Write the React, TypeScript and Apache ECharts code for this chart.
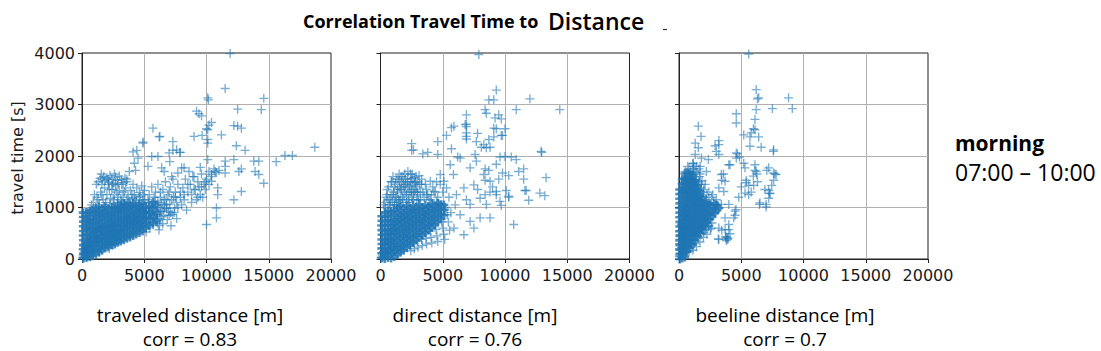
import React, { useEffect, useRef } from "react";
import * as echarts from "echarts";

// ---------- data ----------
const xTitles = ["traveled distance [m]", "direct distance [m]", "beeline distance [m]"];
const corrValues = ["0.83", "0.76", "0.7"];
const chartTitle = "Correlation Travel Time to";
const chartTitleBig = "Distance";
const periodName = "morning";
const periodTime = "07:00 – 10:00";
const yTitle = "travel time [s]";

// [distance m, travel time s]
const traveledPts: number[][] = [
  [60,20],[120,95],[175,40],[205,150],[255,75],[300,215],[345,120],[385,30],[420,265],[455,170],[495,85],[525,330],[575,235],[625,120],[650,395],[700,290],[725,60],[775,185],[805,455],[850,350],[880,105],[925,245],[955,520],[1000,415],[1025,150],[1080,305],[1115,585],[1150,465],[1200,205],[1245,355],[1285,640],[1320,515],[1365,135],[1400,265],[1430,400],[1470,690],[1520,560],[1555,195],[1600,315],[1630,455],[1680,735],[1720,600],[1765,235],[1800,365],[1840,500],[1885,770],[1920,645],[1965,275],[2005,415],[2050,545],[2100,805],[2140,680],[2185,205],[2225,305],[2260,450],[2305,595],[2350,835],[2400,720],[2445,265],[2485,355],[2520,505],[2565,640],[2605,865],[2650,760],[2700,305],[2745,405],[2790,555],[2835,685],[2880,895],[2925,790],[2965,345],[3005,455],[3050,605],[3095,725],[3140,925],[3190,825],[3245,385],[3285,505],[3330,645],[3375,765],[3420,955],[3470,855],[3520,425],[3565,545],[3610,685],[3660,805],[3705,985],[3750,885],[3800,465],[3850,585],[3900,725],[3950,845],[4005,1005],[4050,915],[4100,505],[4155,625],[4200,765],[4250,875],[4300,1035],[4350,945],[4405,545],[4450,665],[4500,795],[4555,905],[4600,1055],[4650,965],[4705,585],[4750,705],[4800,825],[4855,935],[4900,1085],[4950,645],[5005,765],[5050,885],[5100,995],[5150,525],[5205,705],[5260,825],[5320,945],[5380,1105],[5450,605],[5505,765],[5560,885],[5620,1005],[5700,665],[5760,805],[5825,945],[5885,1125],[5950,725],[6020,865],[6100,1005],[6180,565],[6250,785],[6320,925],[6400,1085],[6480,685],[6565,845],[6650,985],[6750,1155],[6850,765],[6950,925],[7050,1065],[7150,645],[7250,865],[7350,1205],[7450,985],[7600,785],
  [90,60],[230,110],[320,170],[440,220],[560,170],[680,360],[740,250],[860,420],[960,330],[1060,520],[1130,240],[1220,430],[1300,580],[1380,350],[1480,470],[1570,620],[1650,390],[1740,530],[1860,640],[1940,340],[2020,480],[2160,600],[2280,380],[2360,700],[2460,560],[2600,450],[2680,640],[2820,480],[2900,740],[3060,530],[3160,680],[3300,560],[3440,720],[3540,610],[3680,740],[3780,640],[3920,800],[4060,700],[4220,680],[4300,830],[4460,750],[4580,620],[4720,880],[4820,700],[4980,920],[5120,800],[5300,650],[5420,920],[5600,780],[5760,1000],[5900,860],[6060,700],[6200,930],[6400,820],[6600,1050],[6800,980],
  [150,250],[350,330],[460,470],[610,540],[760,600],[880,700],[1040,770],[1190,840],[1330,900],[1510,860],[1660,940],[1790,1010],[1950,880],[2080,990],[2230,1060],[2390,1010],[2570,1080],[2720,970],[2860,1100],[3020,1010],[3180,1120],[3390,1070],[3580,1150],[3820,1090],[4080,1180],[4380,1130],[4690,1220],[5050,1150],
  [300,600],[500,780],[650,950],[760,1050],[420,900],[900,1100],[1000,900],[1110,1000],[600,700],
  [1200,1200],[1400,1050],[1500,1300],[1700,1150],[1800,1380],[2000,1250],[2100,1450],[2300,1180],[2400,1350],[2600,1250],[2700,1420],[2900,1200],[3000,1330],[3200,1450],[3300,1250],[3500,1380],[3700,1200],[3900,1330],[4100,1450],[4200,1250],[4400,1380],[4600,1290],[4800,1420],[5000,1330],
  [1000,1250],[1300,1150],[1600,1250],[1900,1100],[2200,1350],[2500,1150],[2800,1300],[3100,1150],[3400,1300],[3700,1100],[4000,1250],[4300,1150],[4600,1200],[4900,1250],[2100,1550],[2900,1450],[3600,1550],[1150,1450],[1650,1550],[2450,1450],
  [1300,1500],[1450,1570],[1600,1450],[1750,1600],[1850,1520],[2000,1580],[2150,1490],[2250,1620],[2400,1550],[2550,1470],[2700,1590],[2850,1530],[3000,1610],[3150,1540],[3300,1480],[3450,1570],[1550,1650],[2600,1650],[3600,1500],
  [4100,2080],[4200,1860],[4500,1960],[4900,2250],[5700,2540],[6200,2370],[6100,1990],[6400,1770],[7200,1600],[7300,2280],[7600,2120],[7700,1670],[8200,1770],[7900,2070],[7050,1890],[5600,1990],[4400,2110],[4300,1720],[5300,1800],[3800,1700],[6600,1700],[7000,2060],
  [5400,1250],[5600,1400],[5900,1300],[6100,1450],[6300,1200],[6500,1350],[6700,1500],[6900,1250],[7100,1400],[7300,1550],[7500,1300],[7700,1450],[7900,1200],[8100,1380],[8300,1550],[8500,1300],[8700,1450],[8900,1600],[9100,1350],[9300,1500],[9500,1250],[9600,1650],[9800,1450],[10000,1550],[10200,1700],[10400,1600],[10600,1750],[10800,1680],[11000,1720],[8000,1050],[8400,950],[8800,1100],[9200,1150],[9700,1200],[7600,1100],[7000,850],[7400,900],[8200,1250],[9400,1400],[9900,1350],
  [5300,1150],[5600,1050],[5800,1200],[6100,1100],[6300,1300],[6600,1150],[6800,1050],[7000,1300],[7200,1150],[7500,1200],[7700,1000],[7900,1300],[8200,1150],[8500,1450],[8800,1250],[9000,1350],[9300,1200],[9600,1400],[9900,1500],[10200,1450],[6500,950],[7100,900],[5800,800],[6200,650],
  [11900,3990],[11500,3310],[10100,3130],[10150,3090],[14600,3120],[12500,2910],[14400,2900],[9200,2870],[9400,2820],[9600,2780],[10400,2650],[10200,2600],[12200,2590],[12500,2580],[12800,2540],[10000,2530],[10100,2510],[11200,2410],[6250,2380],[9000,2380],[9650,2400],[10100,2320],[10100,2250],[12400,2200],[13100,2110],[18700,2170],[16300,2010],[16900,2010],[15600,1890],[13800,1900],[14200,1900],[10100,1930],[11500,1900],[11500,1800],[12200,1930],[11500,1670],[10700,1700],[10400,1640],[12600,1700],[12800,1750],[13900,1700],[14200,1640],[14600,1470],[12800,1310],[12200,1150],[10800,990],[10900,1380],[10900,1250],[10400,1510],[10800,800],[10000,670],[4900,2270],[7300,2110],[7850,2070],[8000,1770],[9500,1780],[9000,1600],[8600,1700]
];

// solid core of the traveled-distance cloud
const traveledDense: number[][] = [
  [110,15],[130,105],[100,190],[125,275],[115,365],[100,455],[120,545],[105,635],[125,725],[110,815],[100,900],
  [360,35],[385,120],[350,215],[375,300],[360,385],[390,470],[370,560],[355,650],[380,740],[365,830],[350,905],
  [610,45],[630,135],[600,225],[625,305],[615,395],[640,490],[605,575],[620,665],[600,755],[630,840],[615,920],
  [860,65],[880,150],[855,245],[875,330],[865,425],[890,505],[850,600],[870,685],[865,770],[880,860],[855,950],
  [1110,90],[1130,185],[1105,270],[1125,365],[1115,450],[1140,545],[1100,630],[1120,720],[1135,805],[1120,895],[1105,985],
  [1360,135],[1380,220],[1355,315],[1375,400],[1365,490],[1390,585],[1350,670],[1370,760],[1385,845],[1370,935],[1355,1010],
  [1610,170],[1630,265],[1605,350],[1625,440],[1615,535],[1640,620],[1600,710],[1620,805],[1635,890],[1625,975],
  [1860,215],[1880,300],[1855,395],[1875,480],[1865,570],[1890,665],[1850,750],[1870,840],[1885,930],[1870,1015],
  [2110,240],[2130,335],[2105,420],[2125,515],[2115,600],[2140,690],[2100,785],[2120,870],[2135,960],
  [2360,275],[2380,360],[2355,455],[2375,540],[2365,635],[2390,720],[2350,810],[2370,905],[2385,985],
  [2610,290],[2630,385],[2605,470],[2625,565],[2615,650],[2640,745],[2600,830],[2620,920],[2635,1005],
  [2860,325],[2880,410],[2855,505],[2875,590],[2865,685],[2890,770],[2850,865],[2870,950],[2885,1030],
  [3110,350],[3130,445],[3105,530],[3125,625],[3115,710],[3140,805],[3100,890],[3120,985],[3135,1050],
  [3360,375],[3380,460],[3355,555],[3375,640],[3365,735],[3390,820],[3350,915],[3370,1000],[3385,1070],
  [3610,405],[3630,490],[3605,585],[3625,670],[3615,765],[3640,850],[3600,945],[3620,1030],
  [3860,425],[3880,515],[3855,600],[3875,695],[3865,780],[3890,875],[3850,960],[3870,1050],
  [4110,455],[4130,540],[4105,635],[4125,720],[4115,815],[4140,900],[4100,995],[4120,1080],
  [4360,485],[4380,570],[4355,665],[4375,750],[4365,845],[4390,930],[4350,1020],
  [4610,515],[4630,600],[4605,695],[4625,780],[4615,875],[4640,960],[4600,1050],
  [4860,545],[4880,630],[4855,725],[4875,810],[4865,905],[4890,990],[4850,1080],
  [5120,600],[5140,705],[5110,800],[5130,905],[5115,1000],
  [5400,655],[5420,785],[5390,900],[5410,1025],
  [5700,705],[5720,850],[5690,985],[5710,1100],
  [6000,755],[6020,905],[5990,1050]
];

const directPts: number[][] = [
  [50,30],[100,120],[150,60],[180,220],[230,140],[260,40],[300,300],[330,190],[370,90],[400,380],[440,260],[480,150],[510,450],[550,340],[590,220],[620,60],[650,520],[690,410],[730,290],[770,170],[800,590],[840,480],[880,360],[920,240],[950,100],[990,660],[1030,540],[1070,420],[1110,300],[1150,180],[1190,720],[1230,610],[1270,490],[1310,370],[1350,250],[1390,120],[1430,780],[1470,660],[1510,540],[1550,420],[1590,300],[1630,180],[1680,830],[1720,710],[1760,590],[1800,470],[1840,350],[1880,220],[1930,870],[1970,750],[2010,630],[2050,510],[2090,390],[2130,260],[2180,900],[2220,780],[2260,660],[2300,540],[2340,420],[2380,290],[2430,160],[2470,920],[2510,800],[2550,680],[2590,560],[2630,440],[2670,320],[2720,200],[2760,950],[2800,830],[2840,710],[2880,590],[2920,470],[2960,350],[3010,230],[3060,970],[3100,850],[3150,730],[3200,610],[3250,490],[3300,380],[3350,260],[3400,1000],[3450,880],[3500,760],[3550,640],[3600,520],[3650,400],[3700,290],[3760,1020],[3820,900],[3880,780],[3940,660],[4000,540],[4060,420],[4120,310],[4180,1050],[4250,930],[4320,810],[4390,690],[4460,570],[4530,450],[4600,340],[4680,1080],[4760,960],[4840,840],[4920,720],[5000,600],[5080,480],[5160,380],[5250,1000],[5350,860],[5450,720],[5550,560],[5650,900],
  [400,1000],[600,1150],[700,1050],[850,1250],[950,1100],[1100,1400],[1200,1200],[1300,1050],[1400,1300],[1500,1500],[1600,1150],[1700,1350],[1800,1600],[1900,1250],[2000,1450],[2100,1100],[2200,1550],[2300,1300],[2400,1650],[2500,1200],[2600,1450],[2700,1580],[2800,1350],[2900,1150],[3000,1500],[3100,1620],[3200,1300],[1000,1600],[1500,1650],[2500,1560],[3300,1450],[3500,1200],[3700,1350],[3900,1150],[4100,1250],[2200,1700],
  [300,1100],[500,1250],[650,1400],[800,1050],[900,1500],[1050,1300],[1150,1100],[1250,1550],[1350,1350],[1450,1150],[1550,1400],[1650,1600],[1750,1200],[1850,1450],[1950,1650],[2050,1300],[2150,1500],[2250,1150],[2350,1420],[2450,1300],[2550,1650],[2650,1250],[2750,1480],[2850,1600],[2950,1300],[3050,1150],[3150,1450],
  [250,1050],[450,1200],[550,1350],[750,1150],[850,1500],[1000,1250],[1100,1050],[1200,1450],[1300,1200],[1400,1550],[1500,1100],[1600,1350],[1700,1500],[1800,1150],[1900,1400],[2000,1550],[2100,1250],[2200,1400],[2300,1100],[2400,1500],[2500,1350],[2600,1150],[2700,1300],[2800,1500],[2900,1400],[3000,1250],[3200,1150],[3400,1300],[3600,1450],[3800,1250],[4000,1150],[4200,1400],[4400,1300],[4600,1200],[4800,1450],[5000,1300],[3300,1550],[4500,1500],
  [5860,1640],[5600,1830],[6400,1960],[7200,1770],[7700,1900],[8300,1640],[8800,1510],[9300,1310],[9600,1120],[6100,1250],[6700,1380],[7500,1440],[8000,1180],[8500,1060],[7200,1060],[5100,1510],[5300,1380],[4800,1640],[4300,1310],[4500,1120],[3700,1250],[4000,1510],[6400,860],[7200,730],[8000,800],[8800,800],[7500,600],[5900,600],[6700,470],[5500,1200],[6000,1050],[6900,1150],[7800,1350],[8400,1250],[9000,1400],[9500,1550],
  [7900,3970],[9300,3280],[8700,3090],[9100,3090],[12000,3110],[14400,2900],[10900,2900],[8400,2900],[8500,2830],[9700,2720],[10000,2530],[9300,2530],[6900,2800],[6900,2620],[6900,2570],[5700,2550],[7800,2440],[6900,2380],[6900,2330],[5300,2400],[9100,2370],[9800,2400],[4600,2280],[2500,2240],[2500,2110],[5700,2140],[8800,2170],[8100,2170],[3400,2040],[3800,2070],[4600,2030],[6200,1980],[7600,2030],[10500,1980],[10900,1930],[12900,2090],[12950,2070],[11500,1750],[13300,1580],[12800,1280],[13200,1230],[11600,1330],[11900,1140],[9700,1040],[10700,670],[10300,1200],[9300,1250],[8400,1530],[8800,1300],[9800,1670],[10300,1620],[9300,1840],[9600,1980],[8400,1750],[8700,1720],[2650,2120],[5900,2580],[6800,2610],[6900,2450],[7700,2280],[8300,2220],[8500,2160],[8700,2320],[9100,2540],[9200,2740],[9500,2800],[9700,2400],[10000,1990],[11100,1700],[11500,1550],[10100,1330],[10300,1220],[11700,1330]
];

const directDense: number[][] = [
  [100,20],[120,110],[95,205],[115,290],[105,380],[125,470],[110,560],[95,650],[120,740],[105,830],
  [350,10],[370,105],[345,190],[365,285],[355,370],[380,465],[340,550],[360,645],[375,730],[360,820],[375,905],
  [600,30],[620,125],[595,210],[615,305],[605,390],[630,485],[590,570],[610,665],[625,750],[600,845],[610,930],
  [850,20],[870,115],[845,200],[865,295],[855,380],[880,475],[840,560],[860,655],[875,740],[850,835],[865,920],
  [1100,50],[1120,145],[1095,230],[1115,325],[1105,410],[1130,505],[1090,590],[1110,685],[1125,770],[1100,865],[1115,950],
  [1350,90],[1370,185],[1345,270],[1365,365],[1355,450],[1380,545],[1340,630],[1360,725],[1375,810],[1350,905],[1365,990],
  [1600,130],[1620,225],[1595,310],[1615,405],[1605,490],[1630,585],[1590,670],[1610,765],[1625,850],[1600,945],[1615,1030],
  [1850,170],[1870,265],[1845,350],[1865,445],[1855,530],[1880,625],[1840,710],[1860,805],[1875,890],[1850,985],
  [2100,220],[2120,315],[2095,400],[2115,495],[2105,580],[2130,675],[2090,760],[2110,855],[2125,940],[2100,1035],
  [2350,270],[2370,365],[2345,450],[2365,545],[2355,630],[2380,725],[2340,810],[2360,905],[2375,990],
  [2600,320],[2620,415],[2595,500],[2615,595],[2605,680],[2630,775],[2590,860],[2610,955],[2625,1040],
  [2850,370],[2870,465],[2845,550],[2865,645],[2855,730],[2880,825],[2840,910],[2860,1005],
  [3100,420],[3120,515],[3095,600],[3115,695],[3105,780],[3130,875],[3090,960],[3110,1055],
  [3350,460],[3370,555],[3345,640],[3365,735],[3355,820],[3380,915],[3340,1000],
  [3600,510],[3620,605],[3595,690],[3615,785],[3605,870],[3630,965],[3590,1050],
  [3850,560],[3870,655],[3845,740],[3865,835],[3855,920],[3880,1015],
  [4100,610],[4120,705],[4095,790],[4115,885],[4105,970],[4130,1065],
  [4350,660],[4370,755],[4345,840],[4365,935],[4355,1020],
  [4600,720],[4620,815],[4595,900],[4615,995],[4605,1080],
  [4850,780],[4870,875],[4845,960],[4865,1055],
  [5100,850],[5120,955],[5095,1050]
];

const beelinePts: number[][] = [
  [30,50],[60,200],[80,380],[100,120],[130,550],[150,300],[170,40],[200,680],[220,450],[240,180],[270,820],[300,590],[320,330],[340,90],[370,950],[400,720],[420,480],[440,230],[470,1080],[500,860],[520,620],[540,370],[560,130],[600,1200],[620,990],[640,750],[660,500],[680,260],[720,1300],[740,1100],[760,880],[780,630],[800,390],[820,150],[860,1380],[880,1180],[900,960],[920,740],[940,510],[960,280],[1000,1420],[1020,1250],[1040,1040],[1060,820],[1080,600],[1100,370],[1120,170],[1160,1400],[1180,1180],[1200,960],[1220,740],[1240,520],[1260,300],[1300,1350],[1320,1130],[1340,900],[1360,680],[1380,460],[1400,240],[1450,1300],[1470,1080],[1490,850],[1510,630],[1530,400],[1600,1220],[1620,1000],[1640,780],[1660,560],[1680,330],[1750,1150],[1770,930],[1790,710],[1810,490],[1900,1080],[1920,860],[1940,640],[1960,420],[2050,1000],[2070,780],[2090,560],[2200,920],[2220,700],[2240,480],[2350,850],[2370,630],[2500,780],[2520,580],[2650,700],
  [50,300],[110,470],[160,650],[190,220],[250,380],[280,560],[310,140],[350,760],[380,300],[410,880],[450,600],[480,390],[510,1000],[530,250],[570,780],[590,470],[630,1100],[650,620],[700,350],[710,1180],[750,770],[790,500],[830,1250],[850,880],[890,620],[930,380],[970,1100],[990,760],[1030,490],[1090,1300],[1110,700],[1140,450],[1190,1060],[1230,840],[1270,600],[1290,1250],[1330,1010],[1370,780],[1410,560],[1440,1180],[1480,950],[1520,730],[1560,500],[1580,1100],[1630,880],[1700,650],[1720,1050],[1780,820],[1830,600],[1880,980],[1990,740],[2000,520],[2130,880],[2160,620],[2300,760],[2420,650],[2600,600],
  [500,1350],[650,1500],[750,1650],[850,1450],[950,1700],[1050,1550],[1150,1750],[1250,1600],[1350,1500],[1450,1680],[1550,1450],[1650,1600],[1750,1380],[1850,1520],[1950,1300],[2100,1450],[2250,1250],[2400,1100],[700,1800],[1100,1850],[1400,1800],[1600,1750],[900,1600],
  [300,1300],[400,1450],[550,1550],[600,1350],[700,1450],[800,1550],[900,1350],[1000,1500],[1100,1650],[1200,1450],[1300,1700],[1400,1550],[1500,1350],[1600,1500],[1700,1650],[1800,1450],[1900,1200],[2000,1350],[2200,1150],[2400,1300],[2600,1200],[2800,1100],[3000,1050],[500,1700],[800,1750],[1200,1800],
  [3400,1640],[3700,1510],[3200,1380],[3600,1310],[3000,1150],[3400,1060],[4000,1060],[4500,930],[4400,800],[3700,800],[4000,670],[3700,570],[3200,600],[3200,380],[3750,410],[3900,380],[3750,440],[3850,420],[3950,400],[3800,360],[3160,390],[3430,560],[4000,570],[4100,490],[4580,960],[4500,850],[5400,1480],[5300,1280],[5600,1250],[6900,1350],[7300,1280],[7200,1180],[6500,1090],[7000,1060],[6460,1060],[7000,1010],[7200,1330],[7300,1270],[5400,1530],[5600,1430],[6000,1430],[7600,1530],[7450,1430],[5200,1860],[5300,1770],[6100,1830],[6200,1700],[5970,1610],[7200,1770],[7600,1670],[7800,1640],[4000,1830],[4600,2060],[4600,1960],[3000,2090],[3200,2030],[2700,1250],[2900,900],[2500,1050],[4800,1200],[5000,1400],[5800,1300],[6300,1500],
  [5600,3980],[6200,3290],[6400,3130],[6300,3110],[8800,3130],[9100,2920],[7500,2920],[6200,2900],[6100,2710],[4600,2820],[4600,2640],[1550,2580],[1770,2380],[3200,2300],[3200,2220],[5200,2410],[5800,2450],[6100,2510],[5700,2190],[6600,2170],[7600,2120],[1300,2250],[1550,2160],[1300,2030],[1800,1960],[2360,1930],[2900,2200],[1150,1860],[1700,1800],[2200,1700],[5980,2530],[6400,2370],[5700,2370],[7580,2090],[4700,2040],[4850,1980],[4100,1830],[6100,1720],[6250,1650],[7050,1720],[7700,1650],[3570,1650],[3430,1530]
];

const beelineDense: number[][] = [
  [60,0],[70,90],[55,180],[65,270],[60,360],[75,450],[50,540],[65,630],[70,720],[55,810],[65,900],[55,990],[70,1080],[60,1170],[65,1260],[55,1350],
  [260,20],[275,110],[255,200],[270,290],[260,380],[280,470],[250,560],[265,650],[275,740],[260,830],[270,920],[255,1010],[265,1100],[275,1190],[260,1280],[270,1370],[255,1460],[265,1550],
  [460,40],[475,130],[455,220],[470,310],[460,400],[480,490],[450,580],[465,670],[475,760],[460,850],[470,940],[455,1030],[465,1120],[475,1210],[460,1300],[470,1390],[455,1480],[465,1570],[475,1660],
  [660,140],[675,230],[655,320],[670,410],[660,500],[680,590],[650,680],[665,770],[675,860],[660,950],[670,1040],[655,1130],[665,1220],[675,1310],[660,1400],[670,1490],[655,1580],[665,1670],
  [860,210],[875,300],[855,390],[870,480],[860,570],[880,660],[850,750],[865,840],[875,930],[860,1020],[870,1110],[855,1200],[865,1290],[875,1380],[860,1470],[870,1560],[855,1650],
  [1060,280],[1075,370],[1055,460],[1070,550],[1060,640],[1080,730],[1050,820],[1065,910],[1075,1000],[1060,1090],[1070,1180],[1055,1270],[1065,1360],[1060,1450],[1070,1540],[1055,1630],
  [1260,360],[1275,450],[1255,540],[1270,630],[1260,720],[1280,810],[1250,900],[1265,990],[1275,1080],[1260,1170],[1270,1260],[1255,1350],[1260,1440],[1270,1530],
  [1460,440],[1475,530],[1455,620],[1470,710],[1460,800],[1480,890],[1450,980],[1465,1070],[1475,1160],[1460,1250],[1460,1340],[1470,1430],
  [1660,510],[1675,600],[1655,690],[1670,780],[1660,870],[1680,960],[1650,1050],[1665,1140],[1660,1230],[1670,1320],
  [1860,580],[1875,670],[1855,760],[1870,850],[1860,940],[1880,1030],[1850,1120],[1860,1210],
  [2060,650],[2075,740],[2055,830],[2070,920],[2060,1010],[2080,1100],
  [2260,710],[2275,800],[2255,890],[2270,980],[2260,1070],
  [2460,780],[2475,870],[2455,960],[2470,1050],
  [2660,830],[2675,920],[2655,1010],
  [2860,890],[2875,980],[2860,1070],
  [3060,950],[3070,1040],[3200,990]
];

const cloudData = [traveledPts, directPts, beelinePts];
const denseData = [traveledDense, directDense, beelineDense];

// ---------- layout ----------
const gridLefts = [82, 380.5, 679];
const gridTop = 53;
const gridW = 249;
const gridH = 206;
const labelCenters = [190, 475, 785];
const plusSymbol = "path://M5,0L5,10M0,5L10,5";

export default function App() {
  const ref = useRef<HTMLDivElement>(null);
  useEffect(() => {
    if (!ref.current) return;
    const chart = echarts.init(ref.current, undefined, { renderer: "svg" });
    const textColor = "#1a1a1a";
    const markColor = "rgba(31,119,180,0.75)";
    const denseColor = "#2377b4";
    const option: any = {
      animation: false,
      backgroundColor: "#ffffff",
      grid: gridLefts.map((l) => ({
        left: l, top: gridTop, width: gridW, height: gridH,
        show: true, borderColor: "#222", borderWidth: 1, backgroundColor: "transparent",
      })),
      xAxis: gridLefts.map((_, i) => ({
        type: "value", gridIndex: i, min: 0, max: 20000, interval: 5000,
        axisLine: { show: true, onZero: false, lineStyle: { color: "#222", width: 1 } },
        axisTick: { show: true, inside: false, length: 4, lineStyle: { color: "#222" } },
        axisLabel: { margin: 8, fontFamily: "DejaVu Sans", fontSize: 16, color: textColor, formatter: (v: number) => String(v) },
        splitLine: { show: true, showMinLine: false, showMaxLine: false, lineStyle: { color: "#b0b0b0", width: 1 } },
      })),
      yAxis: gridLefts.map((_, i) => ({
        type: "value", gridIndex: i, min: 0, max: 4000, interval: 1000,
        axisLine: { show: true, onZero: false, lineStyle: { color: "#222", width: 1 } },
        axisTick: { show: true, inside: false, length: 4, lineStyle: { color: "#222" } },
        axisLabel: { show: i === 0, margin: 7, fontFamily: "DejaVu Sans", fontSize: 16, color: textColor, formatter: (v: number) => String(v) },
        splitLine: { show: true, showMinLine: false, showMaxLine: false, lineStyle: { color: "#b0b0b0", width: 1 } },
      })),
      series: [
        ...denseData.map((d, i) => ({
          type: "scatter", xAxisIndex: i, yAxisIndex: i, data: d, z: 2,
          symbol: plusSymbol, symbolSize: 9, silent: true, large: false,
          itemStyle: { color: denseColor, borderColor: denseColor, borderWidth: 2.6 },
        })),
        ...cloudData.map((d, i) => ({
          type: "scatter", xAxisIndex: i, yAxisIndex: i, data: d, z: 3,
          symbol: plusSymbol, symbolSize: 9, silent: true, large: false,
          itemStyle: { color: markColor, borderColor: markColor, borderWidth: 1.35 },
        })),
      ],
      graphic: [
        { type: "text", x: 303, y: 30, style: { text: chartTitle, fontFamily: "Open Sans", fontWeight: "bold", fontSize: 18, fill: "#000", textAlign: "left", textVerticalAlign: "bottom" } },
        { type: "text", x: 548, y: 32, style: { text: chartTitleBig, fontFamily: "Open Sans", fontWeight: 600, fontSize: 23, fill: "#000", textAlign: "left", textVerticalAlign: "bottom" } },
        { type: "line", shape: { x1: 663, y1: 29.5, x2: 667, y2: 29.5 }, style: { stroke: "#333", lineWidth: 1.2 } },
        { type: "text", x: 17, y: 158, rotation: Math.PI / 2, style: { text: yTitle, fontFamily: "DejaVu Sans", fontSize: 16, fill: textColor, textAlign: "center", textVerticalAlign: "middle" } },
        ...xTitles.flatMap((t, i) => [
          { type: "text", x: labelCenters[i], y: 315, style: { text: t, fontFamily: "Open Sans", fontSize: 19, lineHeight: 22, fill: "#000", textAlign: "center", textVerticalAlign: "middle" } },
          { type: "text", x: labelCenters[i], y: 339, style: { text: "corr = " + corrValues[i], fontFamily: "Open Sans", fontSize: 19, lineHeight: 20, fill: "#000", textAlign: "center", textVerticalAlign: "middle" } },
        ]),
        { type: "text", x: 955, y: 143, style: { text: periodName, fontFamily: "Open Sans", fontWeight: "bold", fontSize: 21, fill: "#000", textAlign: "left", textVerticalAlign: "middle" } },
        { type: "text", x: 955, y: 172, style: { text: periodTime, fontFamily: "Open Sans", fontSize: 23, fill: "#000", textAlign: "left", textVerticalAlign: "middle" } },
      ],
    };
    chart.setOption(option);
    return () => chart.dispose();
  }, []);
  return (
    <div
      ref={ref}
      style={{ position: "fixed", left: 0, top: 0, width: 1101, height: 351, background: "#fff" }}
    />
  );
}
